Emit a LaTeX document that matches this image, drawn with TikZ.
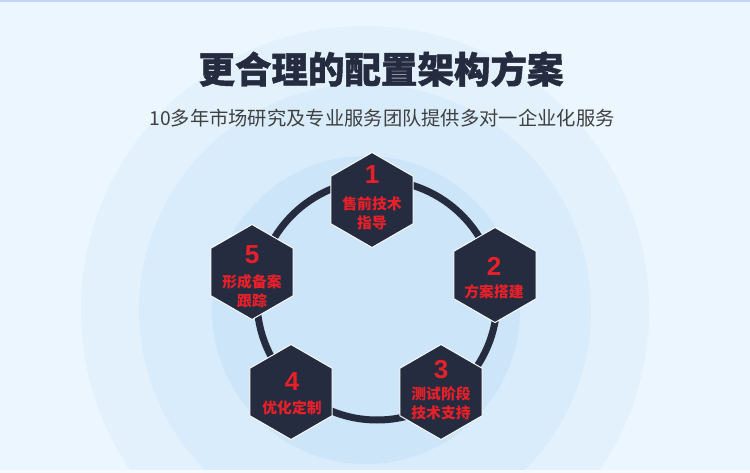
\documentclass[tikz,border=0pt]{standalone}
\usepackage{fontspec}
\setmainfont{Liberation Sans}
\newfontfamily\cjk{Noto Sans CJK SC}
\newfontfamily\cjkheavy{Noto Sans CJK SC}[BoldFeatures={FakeBold=1.2}]
\usetikzlibrary{shapes.geometric}
\definecolor{navy}{HTML}{262C3F}
\definecolor{hexred}{HTML}{E8202A}
\definecolor{bgblue}{HTML}{EBF6FE}
\definecolor{ringa}{HTML}{E2F1FC}
\definecolor{ringb}{HTML}{D9ECFB}
\definecolor{ringc}{HTML}{CDE5F9}
\definecolor{topline}{HTML}{C3D3F3}
\begin{document}
\begin{tikzpicture}[x=1pt,y=-1pt,
    hexa/.style={regular polygon,regular polygon sides=6,shape border rotate=30,
      minimum size=95pt,inner sep=0pt,fill=navy,draw=white!70!bgblue,line width=1pt},
    num/.style={text=hexred,font=\bfseries\fontsize{26}{26}\selectfont},
    lab/.style={text=hexred,font=\cjk\bfseries\fontsize{14.8}{19}\selectfont,align=center}]
        % background
        \clip (0,0) rectangle (750,473);
        \fill[bgblue] (0,0) rectangle (750,473);
        \fill[ringa] (365,310) circle (284);
        \fill[ringb] (365,310) circle (226);
        \fill[ringc] (366,310) circle (154);
        \fill[topline] (0,0) rectangle (750,2);
        \fill[white!50!bgblue] (0,470) rectangle (750,473);
        % heading
        \node[text=navy,font=\cjkheavy\bfseries\fontsize{36.5}{40}\selectfont] (title) at (381,69) {更合理的配置架构方案};
        \node[text=black!75,font=\cjk\fontsize{19.3}{22}\selectfont] (sub) at (382,118) {10多年市场研究及专业服务团队提供多对一企业化服务};
        % ring
        \coordinate (rc) at (377,300);
        \draw[navy,line width=7pt] (rc) circle (120);
        % steps
        \node[hexa] (h1) at (372,200) {};
        \node[num] (n1) at (372,175) {1};
        \node[lab] (t1) at (372,213) {售前技术\\指导};
        \node[hexa] (h2) at (495,275) {};
        \node[num] (n2) at (494,266) {2};
        \node[lab] (t2) at (494,292) {方案搭建};
        \node[hexa] (h3) at (441,392) {};
        \node[num] (n3) at (441,370) {3};
        \node[lab] (t3) at (441,403) {测试阶段\\技术支持};
        \node[hexa] (h4) at (291,392) {};
        \node[num] (n4) at (292,382) {4};
        \node[lab] (t4) at (292,408) {优化定制};
        \node[hexa] (h5) at (252,272) {};
        \node[num] (n5) at (252,255) {5};
        \node[lab] (t5) at (252,291) {形成备案\\跟踪};
\end{tikzpicture}
\end{document}
